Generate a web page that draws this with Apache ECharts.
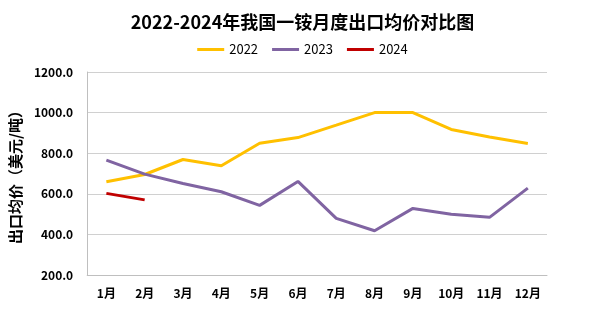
<!DOCTYPE html>
<html><head><meta charset="utf-8">
<script src="https://cdn.jsdelivr.net/npm/echarts@6/dist/echarts.min.js"></script>
<style>html,body{margin:0;padding:0;background:#fff}#c{width:605px;height:321px}</style>
</head><body><div id="c"></div>
<script>
const categories = ['1月','2月','3月','4月','5月','6月','7月','8月','9月','10月','11月','12月'];
const s2022 = [659, 695, 769, 738, 849, 877, 938, 1000, 1000, 917, 880, 848];
const s2023 = [766, 697, 651, 610, 543, 661, 479, 418, 528, 499, 484, 628];
const s2024 = [602, 570];
const yTicks = {min: 200, max: 1200, interval: 200};

const font = '"Noto Sans CJK SC", sans-serif';
const chart = echarts.init(document.getElementById('c'));
const mk = (name, data, color) => ({
  name, type: 'line', data, symbol: 'none', smooth: false,
  lineStyle: {color, width: 3}, itemStyle: {color}
});
chart.setOption({
  animation: false,
  textStyle: {fontFamily: font},
  title: {text: '2022-2024年我国一铵月度出口均价对比图', left: 'center', top: 8,
    textStyle: {fontSize: 18, fontWeight: 'bold', color: '#000', fontFamily: font}},
  legend: {top: 38, left: 'center', itemWidth: 27, itemHeight: 3, itemGap: 14, icon: 'rect',
    textStyle: {fontSize: 13, color: '#000', fontFamily: font},
    data: ['2022','2023','2024']},
  grid: {left: 85, right: 58, top: 72, bottom: 46},
  xAxis: {type: 'category', data: categories, boundaryGap: true,
    axisLine: {lineStyle: {color: '#bfbfbf'}}, axisTick: {show: false},
    axisLabel: {fontSize: 12, fontWeight: 'bold', color: '#000', margin: 12, fontFamily: font}},
  yAxis: {type: 'value', min: yTicks.min, max: yTicks.max, interval: yTicks.interval,
    name: '出口均价（美元/吨）', nameLocation: 'middle', nameGap: 63, nameRotate: 90,
    nameTextStyle: {fontSize: 15, fontWeight: 'bold', color: '#000', fontFamily: font},
    axisLine: {show: true, lineStyle: {color: '#bfbfbf'}}, axisTick: {show: false},
    splitLine: {lineStyle: {color: '#d0d0d0'}},
    axisLabel: {fontSize: 12, fontWeight: 'bold', color: '#000', margin: 14,
      formatter: v => v.toFixed(1), fontFamily: font}},
  series: [mk('2022', s2022, '#FFC000'), mk('2023', s2023, '#8064A2'), mk('2024', s2024, '#C00000')]
});
</script></body></html>
